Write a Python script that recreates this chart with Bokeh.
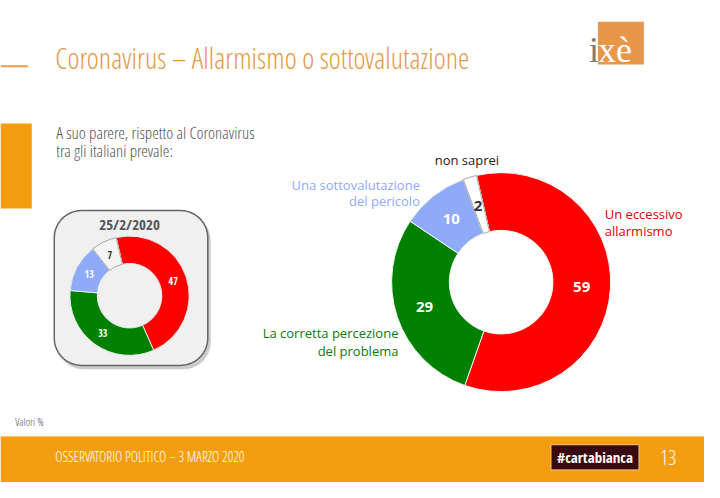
import numpy as np
from bokeh.plotting import figure
from bokeh.models import Range1d, ColumnDataSource
from bokeh.core.properties import value
from bokeh.embed import file_html
from bokeh.resources import INLINE

# ---------------- data ----------------
categories = ["Un eccessivo allarmismo", "La corretta percezione del problema",
              "Una sottovalutazione del pericolo", "non saprei"]
values_now = [59, 29, 10, 2]          # 3 marzo 2020
values_prev = [47, 33, 13, 7]         # 25/2/2020
slice_colors = ["#FF0000", "#008000", "#8FAAF7", "#FFFFFF"]
prev_colors = ["#FF0000", "#008000", "#8FAAF7", "#F4F4F4"]
label_colors = ["#FFFFFF", "#FFFFFF", "#FFFFFF", "#333333"]
title_text = "Coronavirus \u2013 Allarmismo o sottovalutazione"
subtitle_lines = ["A suo parere, rispetto al Coronavirus", "tra gli italiani prevale:"]
prev_date = "25/2/2020"
footer_text = "OSSERVATORIO POLITICO \u2013 3 MARZO 2020"
page_number = "13"

LIGHT = "Open Sans Condensed Light"
COND = "Open Sans Condensed"
SANS = "Open Sans"

W, H = 704, 482
p = figure(width=W, height=H, output_backend="svg", toolbar_location=None,
           x_range=Range1d(0, 720), y_range=Range1d(-498, 0),
           min_border=0, background_fill_color="white", border_fill_color="white")
p.axis.visible = False
p.grid.visible = False
p.outline_line_color = None


def Y(y):
    return -y


def rounded_rect(x0, y0, x1, y1, r, n=12):
    xs, ys = [], []
    corners = [(x1 - r, y0 + r, 270, 360), (x1 - r, y1 - r, 0, 90),
               (x0 + r, y1 - r, 90, 180), (x0 + r, y0 + r, 180, 270)]
    for cx, cy, a0, a1 in corners:
        for a in np.linspace(np.radians(a0), np.radians(a1), n):
            xs.append(cx + r * np.cos(a))
            ys.append(Y(cy + r * np.sin(a)))
    return xs, ys


def donut(vals, colors, cx, cy, r_in, r_out, start_cw, font, font_size, line_col, outline_last):
    fr = np.array(vals, dtype=float) / sum(vals)
    cum = np.concatenate([[0], np.cumsum(fr)]) * 360.0
    c0 = start_cw + cum[:-1]
    c1 = start_cw + cum[1:]
    src = ColumnDataSource(dict(
        start=np.radians(90 - c1), end=np.radians(90 - c0), color=colors))
    p.annular_wedge(x=cx, y=Y(cy), inner_radius=r_in, outer_radius=r_out,
                    start_angle="start", end_angle="end", direction="anticlock",
                    fill_color="color", line_color=line_col, line_width=1, source=src)
    p.annular_wedge(x=cx, y=Y(cy), inner_radius=r_in, outer_radius=r_out,
                    start_angle=np.radians(90 - c1[-1]), end_angle=np.radians(90 - c0[-1]),
                    direction="anticlock", fill_color=None, line_color=outline_last, line_width=1)
    mid = np.radians((c0 + c1) / 2)
    rm = (r_in + r_out) / 2
    lsrc = ColumnDataSource(dict(
        x=cx + rm * np.sin(mid), y=Y(cy) + rm * np.cos(mid),
        t=[str(v) for v in vals], c=label_colors))
    p.text(x="x", y="y", text="t", text_color="c", source=lsrc,
           text_align="center", text_baseline="middle",
           text_font=value(font), text_font_size=font_size, text_font_style="bold")


# ---------------- decorations ----------------
p.quad(left=0, right=32, top=Y(127), bottom=Y(215), fill_color="#F49E0F", line_color=None)
p.segment(x0=0, y0=Y(68), x1=28, y1=Y(68), line_color="#E8A04F", line_width=2)
p.text(x=[56], y=[Y(59)], text=[title_text], text_color="#E49A48",
       text_font=value(LIGHT), text_font_size="29px",
       text_align="left", text_baseline="middle")

# logo
p.quad(left=611, right=658, top=Y(22), bottom=Y(66), fill_color="#E8974A", line_color=None)
p.text(x=[602], y=[Y(51)], text=["i"], text_color="#7A7A7A",
       text_font=value("Liberation Serif"), text_font_size="36px",
       text_align="left", text_baseline="alphabetic")
p.text(x=[611], y=[Y(51)], text=["x\u00e8"], text_color="#FFFFFF",
       text_font=value("Liberation Serif"), text_font_size="36px",
       text_align="left", text_baseline="alphabetic")

# subtitle
p.text(x=[57, 57], y=[Y(136), Y(155)], text=subtitle_lines, text_color="#555555",
       text_font=value(LIGHT), text_font_size="17px",
       text_align="left", text_baseline="middle")

# small donut box with shadow
sx, sy = rounded_rect(57, 220, 215, 381, 28)
p.patch(sx, sy, fill_color="#9A9A9A", fill_alpha=0.5, line_color=None)
bx, by = rounded_rect(55, 217, 212, 377, 28)
p.patch(bx, by, fill_color="#F0F0F0", line_color="#666666", line_width=1.5)
p.text(x=[132], y=[Y(231)], text=[prev_date], text_color="#555555",
       text_font=value(COND), text_font_size="15px", text_font_style="bold",
       text_align="center", text_baseline="middle")

# donuts
donut(values_prev, prev_colors, 132, 305, 33, 61, -13, COND, "10px", "#E8E8E8", "#AAAAAA")
donut(values_now, slice_colors, 512, 291, 53, 112, -13, SANS, "15px", "#F4F4F4", "#AAAAAA")

# category labels around big donut
p.text(x=[477], y=[Y(165)], text=[categories[3]], text_color="#222222",
       text_font=value(SANS), text_font_size="13px", text_align="center", text_baseline="middle")
p.text(x=[429, 429], y=[Y(191), Y(207)], text=["Una sottovalutazione", "del pericolo"],
       text_color="#8FAAF7", text_font=value(SANS), text_font_size="13px",
       text_align="right", text_baseline="middle")
p.text(x=[618, 618], y=[Y(221), Y(238)], text=["Un eccessivo", "allarmismo"],
       text_color="#E00000", text_font=value(SANS), text_font_size="13px",
       text_align="left", text_baseline="middle")
p.text(x=[407, 407], y=[Y(344), Y(362)], text=["La corretta percezione", "del problema"],
       text_color="#107810", text_font=value(SANS), text_font_size="13px",
       text_align="right", text_baseline="middle")

# Valori %
p.text(x=[15], y=[Y(435)], text=["Valori %"], text_color="#555555",
       text_font=value(LIGHT), text_font_size="11px", text_align="left", text_baseline="middle")

# footer
p.quad(left=0, right=720, top=Y(450), bottom=Y(500), fill_color="#F49E0F", line_color=None)
p.segment(x0=0, y0=Y(450.5), x1=720, y1=Y(450.5), line_color="#F8C66A", line_width=1)
p.text(x=[56], y=[Y(471)], text=[footer_text], text_color="#FFFFFF",
       text_font=value(LIGHT), text_font_size="14px", text_align="left", text_baseline="middle")
p.quad(left=563, right=653, top=Y(459), bottom=Y(485), fill_color="#3A0A12",
       line_color="#F6C878", line_width=1)
p.text(x=[608], y=[Y(472)], text=["#cartabianca"], text_color="#FFFFFF",
       text_font=value(COND), text_font_size="15px", text_font_style="bold",
       text_align="center", text_baseline="middle")
p.text(x=[683], y=[Y(472)], text=[page_number], text_color="#FFFFFF",
       text_font=value(LIGHT), text_font_size="20px",
       text_align="center", text_baseline="middle")

open("out.html", "w").write(file_html(p, INLINE))
